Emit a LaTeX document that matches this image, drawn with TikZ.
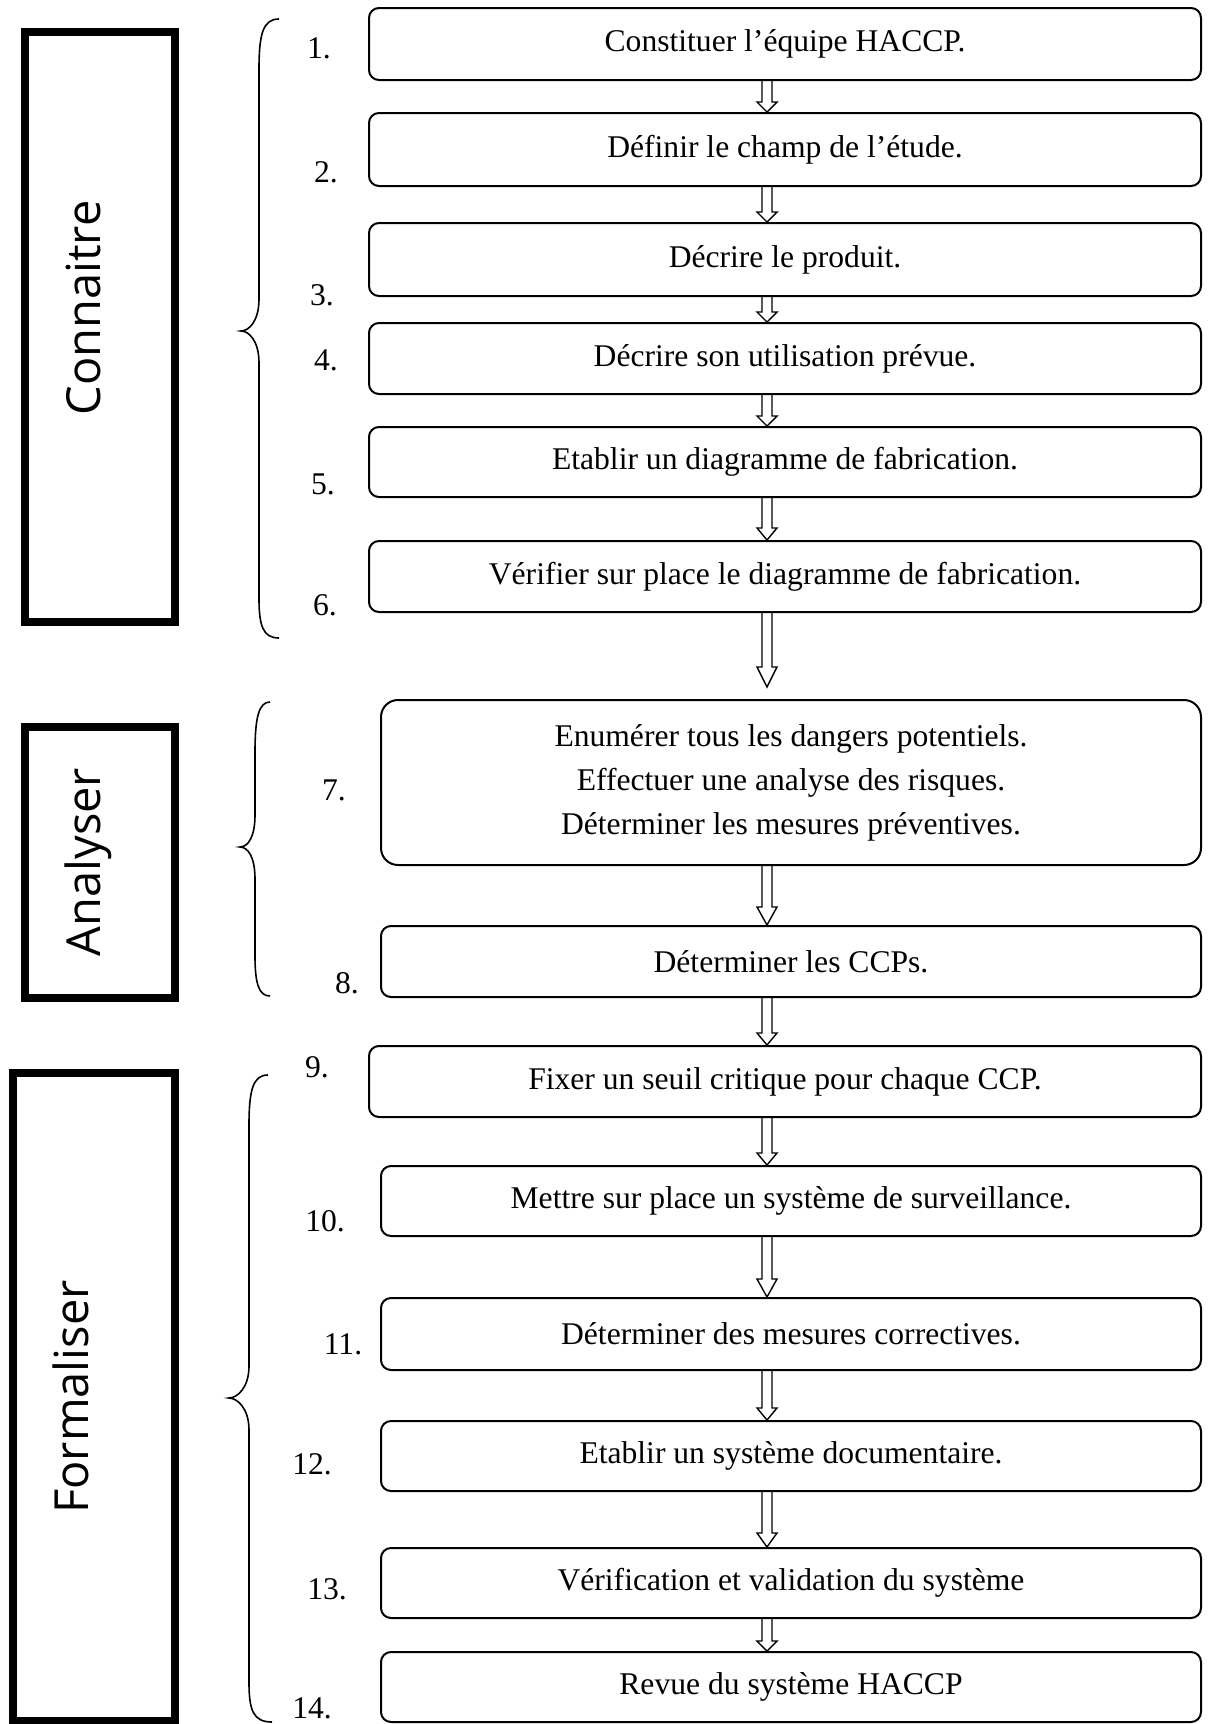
\documentclass[tikz,border=0pt]{standalone}
\usepackage{fontspec}
\setmainfont{Liberation Serif}
\newfontfamily\sidefont{Open Sans}
\usetikzlibrary{calc}
\newcommand\harr[4]{\draw[hollow] let \p1=(#1.south -| ax), \p2=(#2.north -| ax) in
  (\x1-2.5pt,\y1) -- (\x1-2.5pt,\y2+#4+#3) -- (\x1-5pt,\y2+#4+#3) -- (\x1,\y2+#4)
  -- (\x1+5pt,\y2+#4+#3) -- (\x1+2.5pt,\y2+#4+#3) -- (\x1+2.5pt,\y1);}
\newcommand\bracedraw[7]{% #1 top end x, #2 spine x, #3 tip x, #4 top y, #5 tip y, #6 bottom y, #7 bottom end x
  \draw[bracestyle] (#1,#4) .. controls (#2+4,#4) and (#2,#4+15) .. (#2,#4+50)
    -- (#2,#5-32) .. controls (#2,#5-10) and (#3+8,#5) .. (#3,#5)
    .. controls (#3+8,#5) and (#2,#5+10) .. (#2,#5+32)
    -- (#2,#6-40) .. controls (#2,#6-12) and (#2+4,#6) .. (#7,#6);}
\begin{document}
\begin{tikzpicture}[x=0.5pt,y=-0.5pt,
  stepbox/.style={draw, line width=1pt, rounded corners=5pt, inner sep=0pt,
    font=\fontsize{15.8}{22}\selectfont, align=center},
  numlabel/.style={inner sep=0pt, font=\fontsize{15.8}{19}\selectfont},
  phasebox/.style={draw, line width=4pt},
  phaselabel/.style={rotate=90, anchor=base, inner sep=0pt,
    font=\sidefont\fontsize{23.5}{28}\selectfont},
  hollow/.style={draw, line width=0.7pt, line join=miter},
  bracestyle/.style={draw, line width=0.8pt}]
\useasboundingbox (0,0) rectangle (1214,1724);
\coordinate (ax) at (767,0);

% phase boxes
\draw[phasebox] (25,32) rectangle (175,622);
\node[phaselabel] (l1) at (100,308) {Connaitre};
\draw[phasebox] (25,727) rectangle (175,998);
\node[phaselabel] (l2) at (100,862) {Analyser};
\draw[phasebox] (13,1073) rectangle (175,1721);
\node[phaselabel] (l3) at (88,1397) {Formaliser};

% braces
\bracedraw{279}{259}{241}{19}{331}{638}{279}
\bracedraw{270}{255}{240}{702}{847}{996}{270}
\bracedraw{268}{249}{229}{1075}{1398}{1722}{272}

% steps
\node[stepbox, minimum width=416pt, minimum height=36pt] (b1) at (785,44) {Constituer l’équipe HACCP.};
\node[stepbox, minimum width=416pt, minimum height=36.5pt] (b2) at (785,149.5) {Définir le champ de l’étude.};
\node[stepbox, minimum width=416pt, minimum height=36.5pt] (b3) at (785,259.5) {Décrire le produit.};
\node[stepbox, minimum width=416pt, minimum height=35.5pt] (b4) at (785,358.5) {Décrire son utilisation prévue.};
\node[stepbox, minimum width=416pt, minimum height=35pt] (b5) at (785,462) {Etablir un diagramme de fabrication.};
\node[stepbox, minimum width=416pt, minimum height=35.5pt] (b6) at (785,576.5) {Vérifier sur place le diagramme de fabrication.};
\node[stepbox, rounded corners=8.5pt, minimum width=410pt, minimum height=82.5pt] (b7) at (791,782.5) {Enumérer tous les dangers potentiels.\\Effectuer une analyse des risques.\\Déterminer les mesures préventives.};
\node[stepbox, minimum width=410pt, minimum height=35.5pt] (b8) at (791,961.5) {Déterminer les CCPs.};
\node[stepbox, minimum width=416pt, minimum height=35.5pt] (b9) at (785,1081.5) {Fixer un seuil critique pour chaque CCP.};
\node[stepbox, minimum width=410pt, minimum height=35pt] (b10) at (791,1201) {Mettre sur place un système de surveillance.};
\node[stepbox, minimum width=410pt, minimum height=36pt] (b11) at (791,1334) {Déterminer des mesures correctives.};
\node[stepbox, minimum width=410pt, minimum height=35pt] (b12) at (791,1456) {Etablir un système documentaire.};
\node[stepbox, minimum width=410pt, minimum height=35pt] (b13) at (791,1583) {Vérification et validation du système};
\node[stepbox, minimum width=410pt, minimum height=35pt] (b14) at (791,1687) {Revue du système HACCP};

% numbers
\node[numlabel] (n1) at (319,48) {1.};
\node[numlabel] (n2) at (326,172) {2.};
\node[numlabel] (n3) at (322,295) {3.};
\node[numlabel] (n4) at (326,360) {4.};
\node[numlabel] (n5) at (323,484) {5.};
\node[numlabel] (n6) at (325,605) {6.};
\node[numlabel] (n7) at (334,790) {7.};
\node[numlabel] (n8) at (347,983) {8.};
\node[numlabel] (n9) at (317,1067) {9.};
\node[numlabel] (n10) at (325,1221) {10.};
\node[numlabel] (n11) at (343,1344) {11.};
\node[numlabel] (n12) at (312,1464) {12.};
\node[numlabel] (n13) at (327,1589) {13.};
\node[numlabel] (n14) at (312,1708) {14.};

% arrows
\harr{b1}{b2}{5pt}{0pt}
\harr{b2}{b3}{5pt}{0pt}
\harr{b3}{b4}{5pt}{0pt}
\harr{b4}{b5}{5pt}{0pt}
\harr{b5}{b6}{6pt}{0pt}
\harr{b6}{b7}{10pt}{6pt}
\harr{b7}{b8}{9pt}{0pt}
\harr{b8}{b9}{6pt}{0pt}
\harr{b9}{b10}{6pt}{0pt}
\harr{b10}{b11}{9pt}{0pt}
\harr{b11}{b12}{6pt}{0pt}
\harr{b12}{b13}{7pt}{0pt}
\harr{b13}{b14}{5pt}{0pt}
\end{tikzpicture}
\end{document}
